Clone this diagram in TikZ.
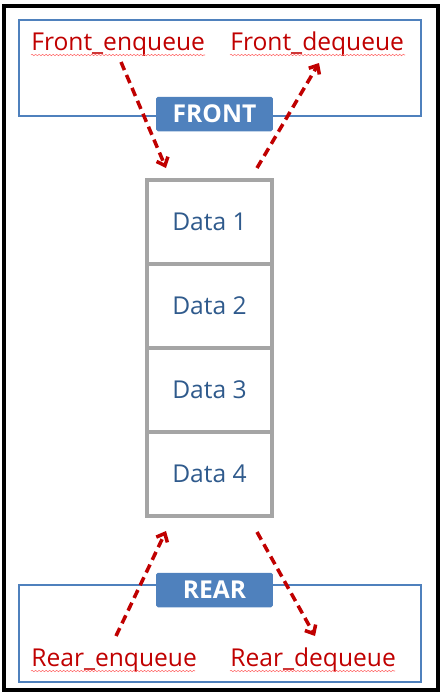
\documentclass[tikz,border=0pt]{standalone}
\usepackage{fontspec}
\setmainfont{Open Sans}
\usetikzlibrary{decorations.pathmorphing,arrows.meta}

\definecolor{qblue}{HTML}{4F81BD}
\definecolor{qred}{HTML}{C00000}
\definecolor{qgray}{HTML}{A5A5A5}
\definecolor{qtext}{HTML}{2F5A8C}

\tikzset{
    >={Straight Barb[length=4pt,width=7pt]},
    cell/.style={draw=qgray, line width=2pt, minimum width=2.5cm, minimum height=1.68cm,
        inner sep=0pt, text=qtext, font=\fontsize{14}{16}\selectfont},
    endbox/.style={draw=qblue, line width=1.5pt},
    tag/.style={fill=qblue, text=white, minimum width=2.34cm, minimum height=0.69cm,
        inner sep=0pt, rounded corners=1pt, font=\fontsize{14}{16}\selectfont\bfseries},
    opname/.style={text=qred, inner sep=0pt, anchor=base west, font=\fontsize{14}{16}\selectfont},
    squiggle/.style={red!60, line width=0.3pt, decorate,
        decoration={snake, amplitude=0.4pt, segment length=2pt}},
    flow/.style={qred, line width=2pt, dash pattern=on 5pt off 3pt, ->}
}

\begin{document}
\begin{tikzpicture}[x=0.02cm, y=-0.02cm]
    \useasboundingbox (0,0) rectangle (446,697);

    \draw [line width=2.4pt] (4,6) rectangle (438,690);

    % front side
    \draw [endbox] (19,20) rectangle (421,116);
    \node [tag] (front) at (214.5,114) {FRONT};
    \node [opname] (fenq) at (31,50) {Front\_enqueue};
    \node [opname] (fdeq) at (230,50) {Front\_dequeue};
    \draw [squiggle] (31,55) -- (205,55);
    \draw [squiggle] (230,55) -- (405,55);

    % the queue
    \node [cell] (d1) at (209.5,222) {Data 1};
    \node [cell] (d2) at (209.5,306) {Data 2};
    \node [cell] (d3) at (209.5,390) {Data 3};
    \node [cell] (d4) at (209.5,474) {Data 4};

    % rear side
    \draw [endbox] (19,585) rectangle (421,682);
    \node [tag] (rear) at (214.5,590) {REAR};
    \node [opname] (renq) at (31,666) {Rear\_enqueue};
    \node [opname] (rdeq) at (230,666) {Rear\_dequeue};
    \draw [squiggle] (31,671) -- (195,671);
    \draw [squiggle] (230,671) -- (395,671);

    \coordinate (fe1) at (121,62);
    \coordinate (fe2) at (166,168);
    \coordinate (fd1) at (257,168);
    \coordinate (fd2) at (319,63);
    \coordinate (re1) at (116,636);
    \coordinate (re2) at (166,531);
    \coordinate (rd1) at (257,532);
    \coordinate (rd2) at (315,636);

    \draw [flow] (fe1) -- (fe2);
    \draw [flow] (fd1) -- (fd2);
    \draw [flow] (re1) -- (re2);
    \draw [flow] (rd1) -- (rd2);
\end{tikzpicture}
\end{document}
